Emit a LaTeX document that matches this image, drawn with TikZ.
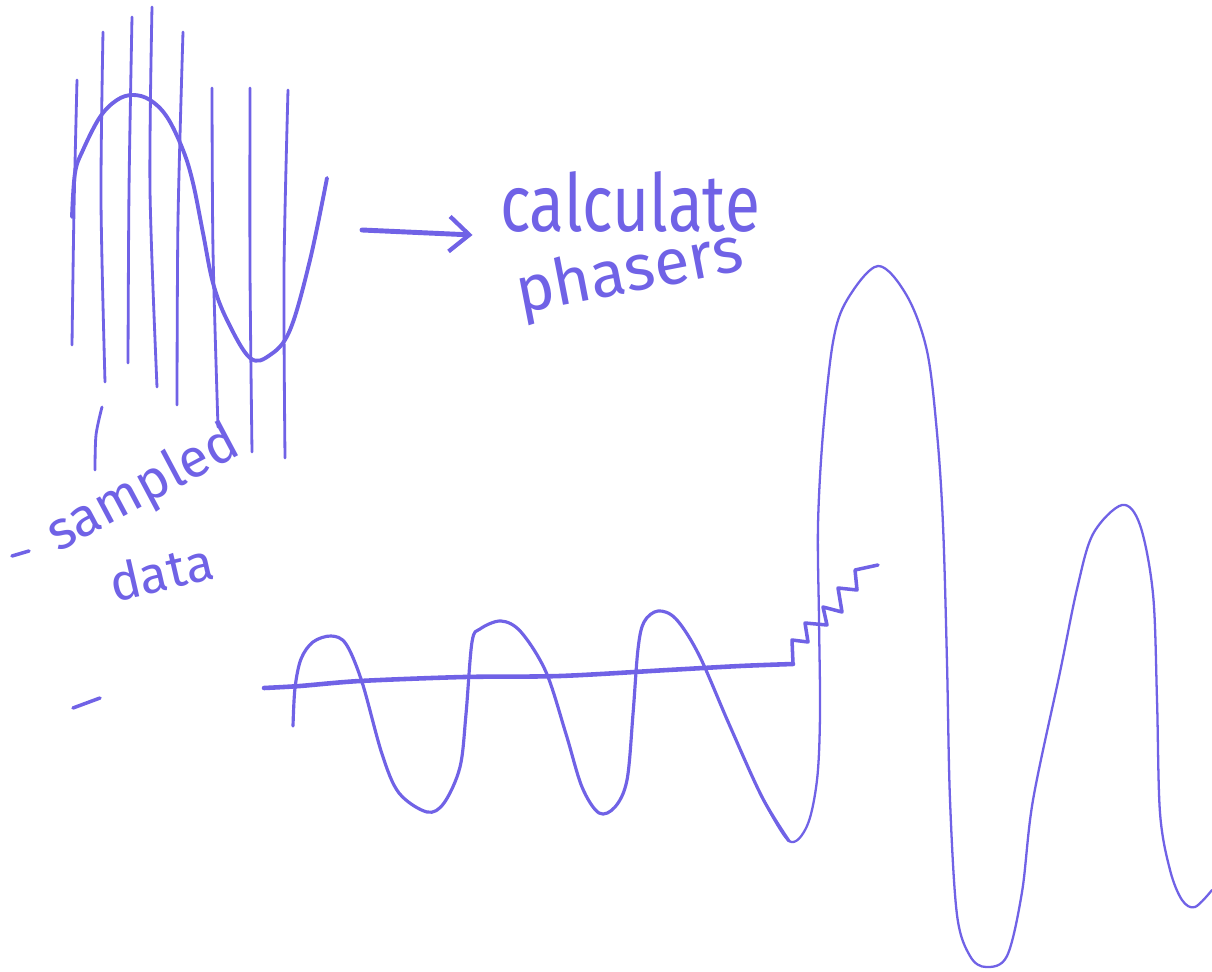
\documentclass[tikz,border=0pt]{standalone}
\usepackage{fontspec}
\setmainfont{Fira Sans}
\usetikzlibrary{arrows.meta}
\definecolor{pen}{RGB}{112,98,230}
\begin{document}
\begin{tikzpicture}[x=0.02cm,y=-0.02cm,
  stroke/.style={draw=pen, line width=1.6pt, line cap=round, line join=round},
  fine/.style={stroke, line width=1.3pt},
  bold/.style={stroke, line width=2.4pt},
  txt/.style={text=pen, inner sep=0pt, outer sep=0pt}]
\useasboundingbox[fill=white] (0,0) rectangle (1212,972);

% sampling lines
\draw[stroke] plot[smooth] coordinates {(77,80) (74,210) (72,345)};
\draw[stroke] plot[smooth] coordinates {(103,32) (101,200) (105,382)};
\draw[stroke] plot[smooth] coordinates {(132,17) (129,190) (128,363)};
\draw[stroke] plot[smooth] coordinates {(152,7) (150,190) (157,387)};
\draw[stroke] plot[smooth] coordinates {(183,32) (178,220) (177,405)};
\draw[stroke] plot[smooth] coordinates {(212,88) (213,250) (218,427)};
\draw[stroke] plot[smooth] coordinates {(250,88) (250,270) (252,452)};
\draw[stroke] plot[smooth] coordinates {(288,90) (284,270) (285,458)};
\draw[stroke] plot[smooth] coordinates {(102,407) (96,435) (95,470)};

% sine wave
\draw[bold, line width=2.2pt] plot[smooth, tension=0.6] coordinates {(72,217) (75,173) (83,150) (100,117) (117,100) (133,95) (150,100) (167,117) (183,150) (193,183) (203,233) (213,283) (227,320) (250,358) (270,355) (290,330) (310,260) (327,178)};

% arrow and text
\node[txt, anchor=base west] (calc) at (500,232) {\resizebox{5.2cm}{1.2cm}{calculate}};
\node[txt, anchor=base west, rotate=11] (phas) at (520,314) {\resizebox{4.6cm}{!}{phasers}};
\coordinate (atail) at (362,230);
\draw[bold, line width=2.8pt, -{Straight Barb[length=4mm,width=7mm,line width=2.4pt]}] (atail) -- ([xshift=-0.55cm,yshift=-0.06cm]calc.base west);

% sampled data
\draw[stroke, line width=2pt] (12,556) -- (29,551);
\node[txt, anchor=base west, rotate=28] (samp) at (58,552) {\resizebox{4.2cm}{!}{sampled}};
\node[txt, anchor=base west, rotate=13] (data) at (114,602) {\resizebox{2.1cm}{!}{data}};
\draw[stroke, line width=2pt] (73,708) -- (100,698);

% axis and zigzag
\draw[bold, line width=2.6pt] plot[smooth] coordinates {(264,688) (300,686) (360,681) (464,677) (560,676) (668,670) (740,666) (793,664)};
\draw[stroke, line width=2pt] (793,664) -- (792,640) -- (808,642) -- (805,623) -- (827,625) -- (823,607) -- (842,612) -- (838,588) -- (857,590) -- (855,570) -- (878,565);

% bottom wave
\draw[stroke, line width=1.8pt] plot[smooth, tension=0.55] coordinates {(293,726) (295,688) (301,659) (313,642) (331,636) (346,644) (362,682) (382,754) (399,793) (427,812) (444,803) (460,767) (466,714) (472,642) (480,629) (501,621) (521,632) (546,672) (566,734) (582,787) (599,813) (615,807) (627,780) (633,714) (638,649) (644,622) (658,611) (676,619) (699,655) (729,724) (762,797) (789,841)};
\draw[fine] plot[smooth, tension=0.55] coordinates {(762,797) (789,841) (807,826) (817,780) (820,714) (819,620) (818,525) (823,433) (833,342) (847,300) (878,266) (907,296) (927,351) (937,433) (943,525) (947,663) (950,800) (957,915) (970,956) (986,967) (1007,956) (1022,892) (1033,800) (1060,672) (1077,589) (1093,534) (1122,505) (1140,525) (1153,594) (1157,700) (1160,813) (1170,870) (1182,900) (1195,907) (1212,890)};
\end{tikzpicture}
\end{document}
